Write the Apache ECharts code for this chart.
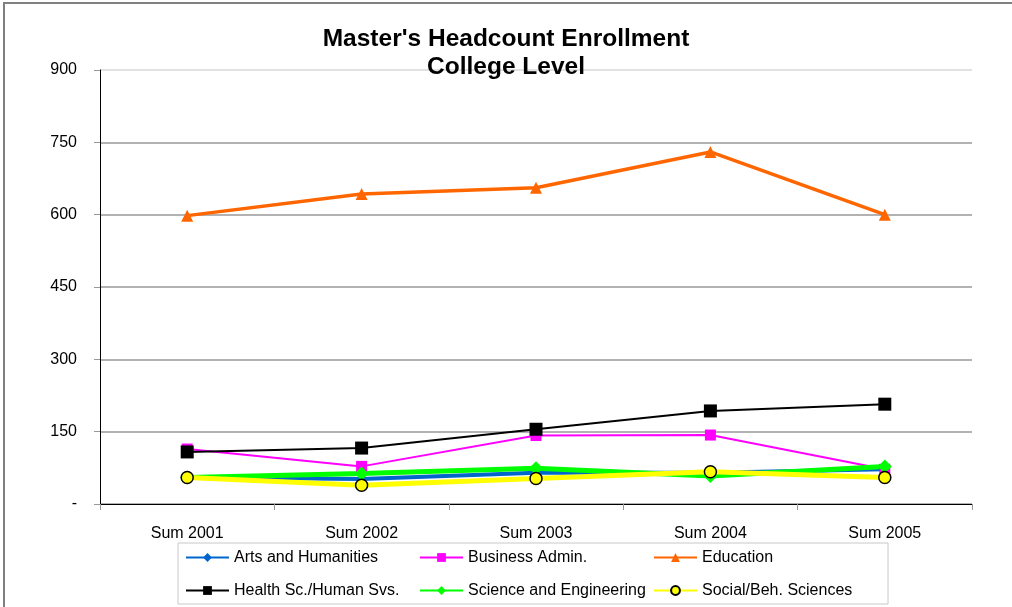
<!DOCTYPE html>
<html>
<head>
<meta charset="utf-8">
<script src="https://cdn.jsdelivr.net/npm/echarts@6/dist/echarts.min.js"></script>
<style>
    html, body { margin: 0; padding: 0; background: #fff; }
    #frame { position: absolute; left: 3px; top: 2px; width: 1020px; height: 620px; border: 2px solid #808080; box-sizing: border-box; }
    #main { position: absolute; left: 0; top: 0; width: 1012px; height: 607px; }
</style>
</head>
<body>
<div id="frame"></div>
<div id="main"></div>
<script>
const years = ['Sum 2001', 'Sum 2002', 'Sum 2003', 'Sum 2004', 'Sum 2005'];
const yTicks = [0, 150, 300, 450, 600, 750, 900];

const arts = [55, 52, 65, 65, 72];
const business = [114, 78, 142, 143, 72];
const education = [598, 643, 656, 730, 600];
const health = [108, 116, 155, 193, 207];
const science = [55, 63, 74, 58, 78];
const social = [55, 39, 53, 67, 55];

let mycharts = echarts.init(document.getElementById('main'));

function line(name, data, color, width, symbol, size, extra) {
    return Object.assign({
        name: name,
        type: 'line',
        data: data,
        symbol: symbol,
        symbolSize: size,
        showSymbol: true,
        lineStyle: { color: color, width: width },
        itemStyle: { color: color, borderWidth: 0 },
        emphasis: { disabled: true },
        animation: false
    }, extra || {});
}

// top gridline is lighter than the others
let gridColors = yTicks.map(function (v, i) { return i === yTicks.length - 1 ? '#d8d8d8' : '#999'; });

let option = {
    textStyle: { fontFamily: 'Liberation Sans, Arial, sans-serif' },
    title: {
        text: "Master's Headcount Enrollment\nCollege Level",
        left: 'center',
        top: 20,
        textStyle: { fontSize: 24.5, fontWeight: 'bold', color: '#000', lineHeight: 28 }
    },
    legend: {
        left: 178,
        top: 543,
        width: 700,
        orient: 'horizontal',
        itemWidth: 43,
        itemHeight: 11,
        itemGap: 6,
        padding: [1, 7, 0, 7],
        borderColor: '#c8c8c8',
        borderWidth: 1,
        textStyle: { fontSize: 16, color: '#000', width: 179, lineHeight: 27 },
        data: ['Arts and Humanities', 'Business Admin.', 'Education',
               'Health Sc./Human Svs.', 'Science and Engineering', 'Social/Beh. Sciences']
    },
    grid: { left: 100, right: 40, top: 70, bottom: 103 },
    xAxis: {
        type: 'category',
        data: years,
        boundaryGap: true,
        axisLine: { show: true, lineStyle: { color: '#000', width: 1 } },
        axisTick: { show: true, length: 6, lineStyle: { color: '#999' } },
        axisLabel: { fontSize: 16, color: '#000', margin: 22 },
        splitLine: { show: false }
    },
    yAxis: {
        type: 'value',
        min: yTicks[0],
        max: yTicks[yTicks.length - 1],
        interval: 150,
        axisLine: { show: true, lineStyle: { color: '#000', width: 1 } },
        axisTick: { show: true, length: 6, lineStyle: { color: '#999' } },
        axisLabel: {
            fontSize: 16, color: '#000', margin: 23,
            formatter: function (v) { return v === 0 ? '-' : String(v); }
        },
        splitLine: { show: true, lineStyle: { color: gridColors, width: 1.5 } }
    },
    series: [
        line('Arts and Humanities', arts, '#0066cc', 4, 'diamond', 10),
        line('Business Admin.', business, '#ff00ff', 2, 'rect', 11),
        line('Education', education, '#ff6600', 3.5, 'triangle', 12),
        line('Health Sc./Human Svs.', health, '#000000', 2, 'rect', 13),
        line('Science and Engineering', science, '#00ff00', 5, 'diamond', 14),
        line('Social/Beh. Sciences', social, '#ffff00', 5, 'circle', 12, {
            itemStyle: { color: '#ffff00', borderColor: '#000', borderWidth: 1.5 }
        })
    ]
};
mycharts.setOption(option);
window.addEventListener('resize', function () {
    mycharts.resize();
});
</script>
</body>
</html>
